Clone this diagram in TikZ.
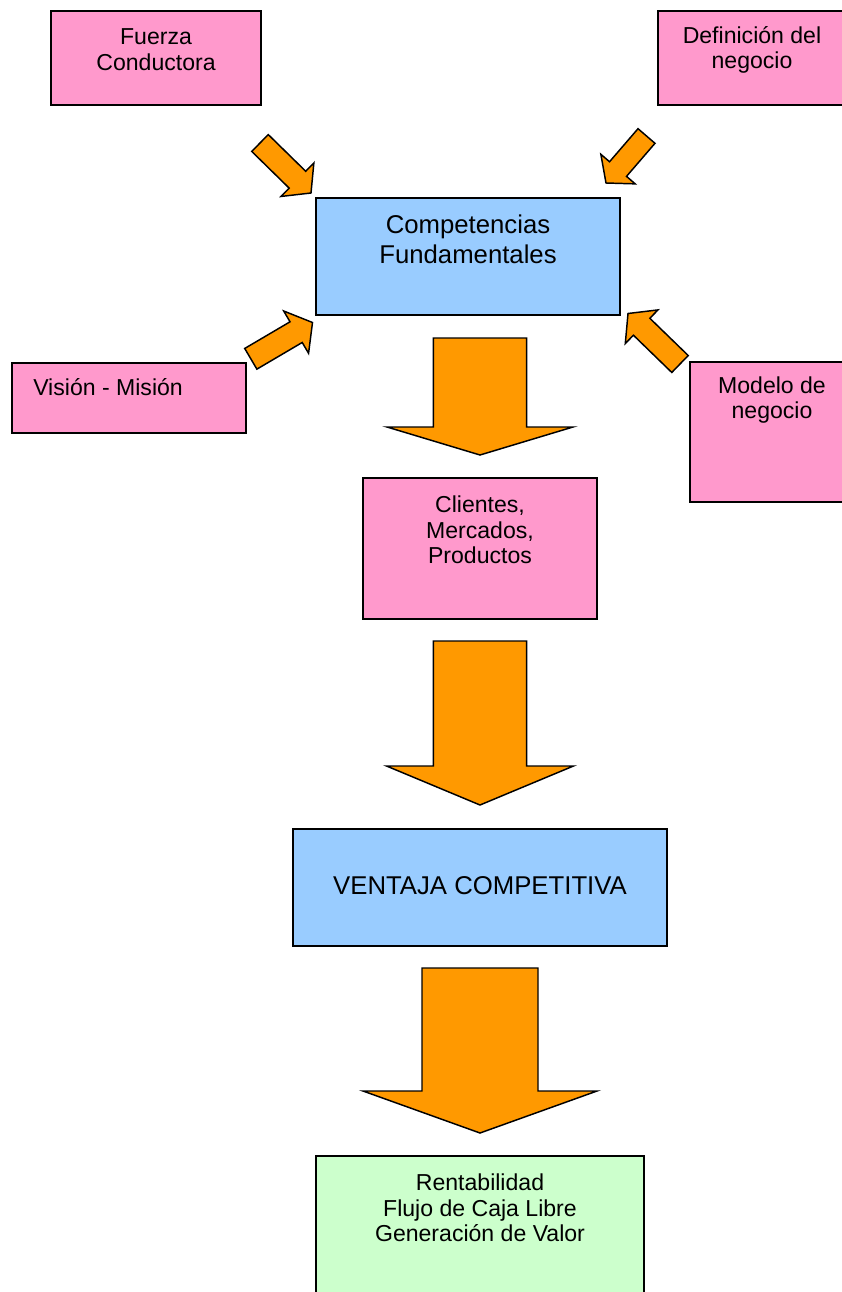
\documentclass[tikz,border=0pt]{standalone}
\usepackage{fontspec}
\setmainfont{Liberation Sans}
\usetikzlibrary{calc,fit}
\definecolor{pinkbox}{HTML}{FF99CC}
\definecolor{bluebox}{HTML}{99CCFF}
\definecolor{greenbox}{HTML}{CCFFCC}
\definecolor{orangearr}{HTML}{FF9900}
\tikzset{
  boxsty/.style={draw=black,line width=1.2pt,inner sep=0pt,rectangle},
  pbox/.style={boxsty,fill=pinkbox},
  bbox/.style={boxsty,fill=bluebox},
  gbox/.style={boxsty,fill=greenbox},
  smalltxt/.style={font=\fontsize{17.3pt}{19.3pt}\selectfont,align=center,inner sep=0pt},
  bigtxt/.style={font=\fontsize{19.3pt}{22.5pt}\selectfont,align=center,inner sep=0pt},
  arrowsty/.style={fill=orangearr,draw=black,line width=1.1pt,line join=miter},
}
% #1 tail, #2 tip, #3 shaft half width, #4 head half width, #5 head length
\newcommand\blockarr[5]{%
  \coordinate (hb) at ($(#2)!#5!(#1)$);
  \draw[arrowsty] ($(#1)!#3!90:(#2)$) -- ($(hb)!#3!90:(#2)$) -- ($(hb)!#4!90:(#2)$)
    -- (#2) -- ($(hb)!#4!-90:(#2)$) -- ($(hb)!#3!-90:(#2)$) -- ($(#1)!#3!-90:(#2)$) -- cycle;
}
\begin{document}
\begin{tikzpicture}[x=0.75pt,y=-0.75pt]
\clip (0,0) rectangle (842,1292);
\fill[white] (0,0) rectangle (842,1292);

% box corners
\path (51,11) coordinate (fc1) (261,105) coordinate (fc2)
      (658,11) coordinate (dn1) (860,105) coordinate (dn2)
      (316,198) coordinate (cf1) (620,315) coordinate (cf2)
      (12,363) coordinate (vm1) (246,433) coordinate (vm2)
      (690,362) coordinate (mn1) (860,502) coordinate (mn2)
      (363,478) coordinate (cl1) (597,619) coordinate (cl2)
      (293,829) coordinate (vc1) (667,946) coordinate (vc2)
      (316,1156) coordinate (rt1) (644,1320) coordinate (rt2);

\node[pbox,fit=(fc1)(fc2)] (fuerza) {};
\node[pbox,fit=(dn1)(dn2)] (defin) {};
\node[bbox,fit=(cf1)(cf2)] (compet) {};
\node[pbox,fit=(vm1)(vm2)] (vision) {};
\node[pbox,fit=(mn1)(mn2)] (modelo) {};
\node[pbox,fit=(cl1)(cl2)] (clientes) {};
\node[bbox,fit=(vc1)(vc2)] (ventaja) {};
\node[gbox,fit=(rt1)(rt2)] (rentab) {};

% texts
\node[smalltxt] (fuerzat) at (156,49.5) {Fuerza\\Conductora};
\node[smalltxt] (defint) at (752,50) {Definición del\\negocio};
\node[bigtxt] (compett) at (468,239.5) {Competencias\\Fundamentales};
\node[smalltxt,anchor=west] (visiont) at (33,387) {Visión - Misión};
\node[smalltxt] (modelot) at (772,400) {Modelo de\\negocio};
\node[smalltxt] (clientest) at (480,530) {Clientes,\\Mercados,\\Productos};
\node[bigtxt] (ventajat) at (480,886) {VENTAJA COMPETITIVA};
\node[smalltxt] (rentabt) at (480,1208) {Rentabilidad\\Flujo de Caja Libre\\Generación de Valor};

% small arrows
\coordinate (a1t) at (260,143); \coordinate (a1h) at (311,193);
\coordinate (a2t) at (646.5,136); \coordinate (a2h) at (606,183);
\coordinate (a3t) at (250.8,358.8); \coordinate (a3h) at (312.5,322.5);
\coordinate (a4t) at (680,364); \coordinate (a4h) at (628,313.5);
\blockarr{a1t}{a1h}{8.85pt}{17.6pt}{14.25pt}
\blockarr{a2t}{a2h}{8.4pt}{17pt}{13.8pt}
\blockarr{a3t}{a3h}{9pt}{18.4pt}{14.25pt}
\blockarr{a4t}{a4h}{8.85pt}{17.6pt}{14.25pt}

% big arrows
\coordinate (b1t) at (480,338); \coordinate (b1h) at (480,455);
\coordinate (b2t) at (480,641); \coordinate (b2h) at (480,805);
\coordinate (b3t) at (480,968); \coordinate (b3h) at (480,1133);
\blockarr{b1t}{b1h}{34.9pt}{69.75pt}{21pt}
\blockarr{b2t}{b2h}{34.9pt}{70.1pt}{29.25pt}
\blockarr{b3t}{b3h}{43.5pt}{87.75pt}{31.5pt}
\end{tikzpicture}
\end{document}
